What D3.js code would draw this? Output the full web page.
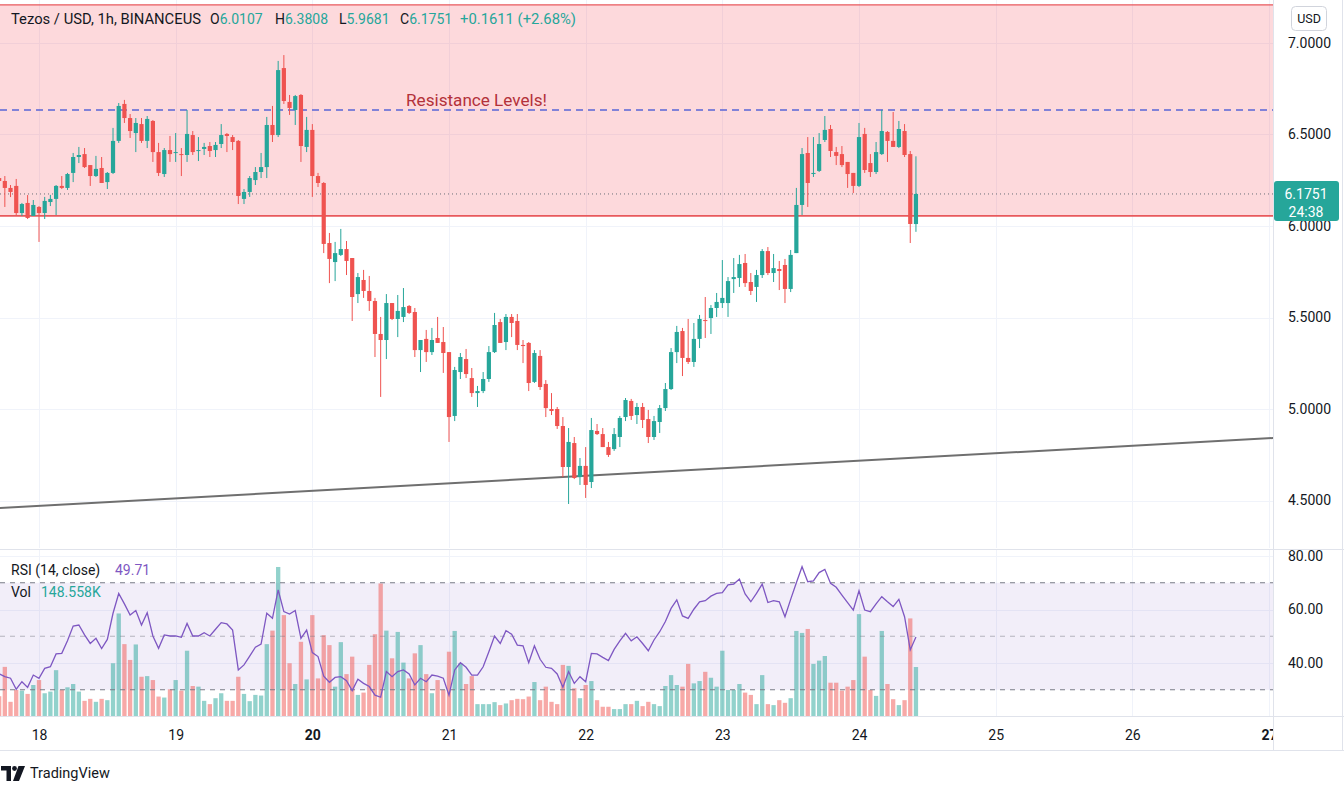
<!DOCTYPE html>
<html><head><meta charset="utf-8">
<script src="https://cdn.jsdelivr.net/npm/d3@7"></script>
<style>
body{margin:0;background:#fff;}
svg{display:block;font-family:Roboto,"Open Sans",sans-serif;}
</style>
</head><body>
<svg id="c" width="1344" height="795"></svg>
<script>
// ---------- DATA (hourly candles, Tezos / USD, BINANCEUS) ----------
const startTime = "2021-11-17T17:00:00Z";
const open = [6.262,6.246,6.208,6.219,6.071,6.126,6.055,6.104,6.071,6.131,6.148,6.219,6.208,6.290,6.377,6.393,6.333,6.273,6.317,6.240,6.290,6.465,6.667,6.590,6.508,6.557,6.465,6.574,6.404,6.284,6.415,6.399,6.393,6.388,6.497,6.410,6.421,6.437,6.415,6.448,6.503,6.486,6.465,6.148,6.186,6.251,6.295,6.322,6.552,6.497,6.863,6.678,6.634,6.716,6.432,6.525,6.273,6.235,5.907,5.803,5.842,5.874,5.825,5.628,5.705,5.645,5.590,5.410,5.377,5.579,5.492,5.503,5.563,5.530,5.322,5.383,5.311,5.388,5.366,5.311,4.962,5.202,5.273,5.169,5.087,5.098,5.164,5.311,5.475,5.366,5.503,5.481,5.350,5.361,5.148,5.290,5.137,5.000,5.000,4.907,4.683,4.814,4.628,4.689,4.601,4.880,4.863,4.792,4.781,4.847,4.956,5.044,4.967,5.011,4.945,4.847,4.929,5.005,5.109,5.311,5.426,5.279,5.257,5.383,5.486,5.497,5.552,5.579,5.579,5.710,5.716,5.798,5.694,5.667,5.732,5.863,5.743,5.765,5.787,5.656,5.852,6.115,6.399,6.284,6.301,6.470,6.530,6.404,6.393,6.350,6.290,6.219,6.503,6.344,6.295,6.393,6.514,6.465,6.432,6.519,6.393,6.0107];
const high = [6.290,6.273,6.224,6.257,6.126,6.169,6.142,6.109,6.159,6.170,6.224,6.273,6.290,6.399,6.432,6.426,6.333,6.383,6.377,6.295,6.536,6.672,6.689,6.612,6.590,6.590,6.601,6.579,6.454,6.426,6.492,6.508,6.426,6.634,6.519,6.486,6.454,6.459,6.459,6.557,6.508,6.497,6.470,6.202,6.273,6.322,6.399,6.596,6.656,6.902,6.934,6.716,6.716,6.721,6.596,6.557,6.290,6.240,5.962,5.913,5.984,5.918,5.825,5.743,5.760,5.727,5.607,5.503,5.628,5.579,5.623,5.661,5.568,5.552,5.377,5.432,5.443,5.503,5.448,5.311,5.230,5.306,5.328,5.224,5.126,5.202,5.344,5.525,5.492,5.519,5.519,5.519,5.377,5.366,5.322,5.322,5.158,5.087,5.011,4.956,4.896,4.847,4.732,4.792,4.951,4.918,4.896,4.820,4.896,4.962,5.060,5.055,5.033,5.033,4.995,4.962,5.022,5.142,5.333,5.454,5.443,5.492,5.470,5.514,5.612,5.568,5.634,5.814,5.721,5.825,5.842,5.847,5.743,5.760,5.874,5.885,5.847,5.809,5.820,5.869,6.208,6.426,6.486,6.486,6.508,6.601,6.552,6.432,6.437,6.350,6.290,6.563,6.536,6.393,6.459,6.634,6.519,6.623,6.574,6.557,6.410,6.3808];
const low = [6.180,6.104,6.158,6.060,6.055,6.038,6.055,5.913,6.038,6.109,6.060,6.202,6.197,6.240,6.344,6.317,6.219,6.268,6.235,6.202,6.284,6.454,6.563,6.481,6.404,6.454,6.426,6.350,6.273,6.268,6.350,6.350,6.273,6.350,6.388,6.355,6.388,6.377,6.377,6.426,6.404,6.415,6.120,6.120,6.159,6.224,6.262,6.262,6.459,6.486,6.667,6.607,6.552,6.350,6.404,6.159,6.213,5.852,5.688,5.699,5.836,5.732,5.481,5.579,5.607,5.536,5.284,5.066,5.273,5.486,5.393,5.475,5.519,5.284,5.202,5.257,5.295,5.361,5.197,4.820,4.934,5.164,5.169,5.066,5.011,5.087,5.148,5.306,5.361,5.322,5.393,5.322,5.251,5.098,5.142,5.104,4.956,4.967,4.891,4.628,4.481,4.617,4.585,4.514,4.568,4.858,4.792,4.738,4.771,4.792,4.934,4.940,4.918,4.896,4.814,4.831,4.869,4.989,5.104,5.251,5.180,5.246,5.230,5.333,5.388,5.410,5.503,5.552,5.503,5.634,5.667,5.667,5.623,5.585,5.716,5.732,5.694,5.650,5.579,5.639,5.852,6.060,6.104,6.268,6.295,6.459,6.377,6.333,6.322,6.208,6.180,6.213,6.290,6.268,6.284,6.388,6.350,6.432,6.426,6.377,5.907,5.9681];
const close = [6.246,6.208,6.186,6.071,6.120,6.044,6.115,6.071,6.137,6.148,6.219,6.208,6.284,6.377,6.388,6.322,6.273,6.312,6.235,6.290,6.465,6.656,6.590,6.519,6.563,6.465,6.585,6.404,6.290,6.415,6.393,6.404,6.388,6.503,6.404,6.415,6.432,6.410,6.443,6.497,6.492,6.459,6.164,6.186,6.262,6.295,6.322,6.552,6.497,6.852,6.683,6.645,6.710,6.437,6.525,6.273,6.235,5.902,5.820,5.852,5.874,5.809,5.612,5.721,5.645,5.590,5.410,5.377,5.579,5.492,5.536,5.557,5.525,5.322,5.377,5.311,5.377,5.361,5.306,4.956,5.213,5.284,5.191,5.087,5.098,5.164,5.311,5.459,5.361,5.503,5.470,5.350,5.344,5.142,5.306,5.120,5.005,4.989,4.907,4.683,4.820,4.623,4.689,4.585,4.885,4.863,4.792,4.749,4.863,4.951,5.049,4.962,5.011,4.940,4.847,4.934,5.005,5.109,5.311,5.421,5.279,5.257,5.383,5.492,5.481,5.552,5.585,5.607,5.699,5.721,5.792,5.688,5.645,5.732,5.863,5.743,5.770,5.754,5.656,5.842,6.115,6.393,6.235,6.290,6.448,6.525,6.410,6.383,6.333,6.284,6.219,6.486,6.306,6.295,6.404,6.519,6.465,6.432,6.530,6.388,6.011,6.1751];
const volumeK = [60,149,43,79,77,67,94,109,69,74,139,79,87,97,74,46,52,43,52,48,160,311,218,170,217,119,121,109,59,56,81,109,77,198,91,89,46,36,54,69,46,46,119,67,45,64,62,218,259,452,306,160,97,225,111,306,114,245,215,89,224,127,180,64,71,155,248,402,259,175,255,162,114,190,215,127,69,109,79,195,258,160,97,121,36,36,36,42,33,38,48,52,51,59,103,48,89,43,36,155,152,84,54,94,106,48,28,28,21,21,36,36,46,30,43,36,30,91,124,94,89,158,99,106,134,116,89,198,79,79,97,71,64,36,124,36,33,48,40,54,258,252,264,158,168,182,101,101,77,89,109,309,180,79,61,258,97,51,33,48,296,148.558];
const rsi = [36,34.9,34.3,30.2,33.0,30.9,35.5,34.3,38.0,38.6,43.4,43.6,48.3,53.8,54.2,50.5,47.3,49.2,45.4,48.8,58.6,66.0,62.1,57.9,59.6,54.2,58.8,50.1,45.5,50.5,50.1,50.1,49.6,54.8,50.1,50.1,51.3,50.1,52.6,55.1,54.6,52.3,37.4,39.3,42.6,45.9,47.1,58.6,56.7,67.3,59.2,58.3,59.6,49.2,52.3,43.9,42.4,35.1,32.8,34.6,34.9,33.4,29.7,33.9,32.4,31.2,28.0,27.2,36.8,34.9,36.8,37.4,35.9,31.8,34.3,33.0,35.5,35.1,34.3,28.0,37.4,40.1,38.4,35.5,35.5,38.6,44.2,50.1,47.3,52.1,50.8,46.7,46.4,40.1,46.4,41.4,38.4,38.0,35.9,30.9,36.8,32.4,34.9,33.0,43.6,43.4,42.1,40.9,45.1,48.3,51.1,48.3,49.8,47.3,44.6,48.6,51.7,55.5,60.4,63.6,57.6,56.7,60.1,62.9,63.3,65.0,66.0,66.3,69.2,69.5,71.4,65.8,62.9,66.0,69.5,62.6,63.3,62.9,57.3,63.8,70.0,76.0,70.4,70.7,73.8,75.0,69.8,68.3,65.4,62.6,59.8,67.0,59.8,59.2,62.1,64.8,62.9,61.1,63.8,57.3,44.9,49.71];

const dayTicks = ["2021-11-18","2021-11-19","2021-11-20","2021-11-21","2021-11-22","2021-11-23","2021-11-24","2021-11-25","2021-11-26","2021-11-27"];
const dayLabels = ["18","19","20","21","22","23","24","25","26","27"];
const priceTicks = [4.5,5.0,5.5,6.0,6.5,7.0];
const rsiTicks = [40,60,80];
const rsiLevels = [70,50,30];
const resistanceZone = [6.055, 7.208];
const resistanceLevel = 6.634;
const trendTimes = ["2021-11-17T17:00:00Z","2021-11-27T01:00:00Z"];
const trendPrices = [4.459, 4.842];
const lastPrice = 6.1751;
const countdown = "24:38";
const changeText = "+0.1611 (+2.68%)";

// ---------- LAYOUT ----------
const W = 1344, plotR = 1273;
const mainTop = 0, mainBot = 548, rsiTop = 550, rsiBot = 716, axisBot = 750;
const TEAL = "#26a69a", RED = "#ef5350";

const t0 = new Date(startTime);
const times = open.map((_, i) => d3.utcHour.offset(t0, i));
const candles = times.map((t, i) => ({t, o: open[i], h: high[i], l: low[i], c: close[i], v: volumeK[i], r: rsi[i]}));

const x = d3.scaleUtc().domain([new Date(dayTicks[0] + "T00:00:00Z"), new Date(dayTicks[9] + "T00:00:00Z")]).range([39, 1269]);
const y = d3.scaleLinear().domain([4.5, 7.0]).range([500.5, 43]);
const yR = d3.scaleLinear().domain([40, 80]).range([663, 556]);
const yV = d3.scaleLinear().domain([0, 455]).range([716, 566]);
const dayDates = dayTicks.map(d => new Date(d + "T00:00:00Z"));

const svg = d3.select("#c");
const defs = svg.append("defs");
defs.append("clipPath").attr("id", "clipMain").append("rect").attr("x", 0).attr("y", mainTop).attr("width", plotR).attr("height", mainBot - mainTop);
defs.append("clipPath").attr("id", "clipRsi").append("rect").attr("x", 0).attr("y", rsiTop).attr("width", plotR).attr("height", rsiBot - rsiTop);
defs.append("clipPath").attr("id", "clipAxis").append("rect").attr("x", 0).attr("y", rsiBot).attr("width", plotR).attr("height", axisBot - rsiBot);

svg.append("rect").attr("width", W).attr("height", 795).attr("fill", "#fff");

// ---------- MAIN PANE ----------
const main = svg.append("g").attr("clip-path", "url(#clipMain)");
main.selectAll("line.vg").data(dayDates).join("line")
  .attr("x1", d => Math.round(x(d)) + 0.5).attr("x2", d => Math.round(x(d)) + 0.5)
  .attr("y1", mainTop).attr("y2", mainBot).attr("stroke", "#f0f3fa");
main.selectAll("line.hg").data(priceTicks).join("line")
  .attr("x1", 0).attr("x2", plotR).attr("y1", d => Math.round(y(d)) + 0.5).attr("y2", d => Math.round(y(d)) + 0.5)
  .attr("stroke", "#f0f3fa");

main.append("rect").attr("x", 0).attr("width", plotR)
  .attr("y", y(resistanceZone[1])).attr("height", y(resistanceZone[0]) - y(resistanceZone[1]))
  .attr("fill", "rgba(242,54,69,0.19)");
main.append("line").attr("x1", 0).attr("x2", plotR).attr("y1", y(resistanceZone[1])).attr("y2", y(resistanceZone[1]))
  .attr("stroke", "#e8595c").attr("stroke-width", 1.3);
main.append("line").attr("x1", 0).attr("x2", plotR).attr("y1", y(resistanceZone[0])).attr("y2", y(resistanceZone[0]))
  .attr("stroke", "#e8595c").attr("stroke-width", 1.8);

main.append("line").attr("x1", 0).attr("x2", plotR).attr("y1", y(resistanceLevel)).attr("y2", y(resistanceLevel))
  .attr("stroke", "#5866d6").attr("stroke-width", 1.3).attr("stroke-dasharray", "7,5");

main.append("line").attr("x1", 0).attr("x2", plotR).attr("y1", y(lastPrice)).attr("y2", y(lastPrice))
  .attr("stroke", "#6b6e78").attr("stroke-width", 1).attr("stroke-dasharray", "1,3");

main.append("line")
  .attr("x1", x(new Date(trendTimes[0]))).attr("y1", y(trendPrices[0]))
  .attr("x2", x(new Date(trendTimes[1]))).attr("y2", y(trendPrices[1]))
  .attr("stroke", "#6f6f6f").attr("stroke-width", 2);

const bw = 4.2;
const cg = main.append("g");
cg.selectAll("line.wick").data(candles).join("line")
  .attr("x1", d => x(d.t)).attr("x2", d => x(d.t))
  .attr("y1", d => y(d.h)).attr("y2", d => y(d.l))
  .attr("stroke", d => d.c >= d.o ? TEAL : RED).attr("stroke-width", 1);
cg.selectAll("rect.body").data(candles).join("rect")
  .attr("x", d => x(d.t) - bw / 2).attr("width", bw)
  .attr("y", d => y(Math.max(d.o, d.c)))
  .attr("height", d => Math.max(1, Math.abs(y(d.o) - y(d.c))))
  .attr("fill", d => d.c >= d.o ? TEAL : RED);

main.append("text").attr("x", 406).attr("y", 100).attr("dy", "0.35em")
  .attr("fill", "#b3313a").attr("font-size", 16).attr("textLength", 141).attr("lengthAdjust", "spacingAndGlyphs")
  .text("Resistance Levels!");

// header legend
const hdr = svg.append("g").attr("font-size", 14).attr("fill", "#131722");
hdr.append("text").attr("x", 11).attr("y", 24).attr("textLength", 190).attr("lengthAdjust", "spacingAndGlyphs")
  .text("Tezos / USD, 1h, BINANCEUS");
const ohlc = [["O", open[open.length-1].toFixed(4), 210], ["H", high[high.length-1].toFixed(4), 275], ["L", low[low.length-1].toFixed(4), 339], ["C", close[close.length-1].toFixed(4), 400]];
ohlc.forEach(([k, v, px]) => {
  const t = hdr.append("text").attr("x", px).attr("y", 24);
  t.append("tspan").text(k);
  t.append("tspan").attr("fill", TEAL).text(v);
});
hdr.append("text").attr("x", 460).attr("y", 24).attr("fill", TEAL)
  .attr("textLength", 116).attr("lengthAdjust", "spacingAndGlyphs").text(changeText);

// ---------- RSI / VOLUME PANE ----------
const rp = svg.append("g").attr("clip-path", "url(#clipRsi)");
rp.selectAll("line.vg").data(dayDates).join("line")
  .attr("x1", d => Math.round(x(d)) + 0.5).attr("x2", d => Math.round(x(d)) + 0.5)
  .attr("y1", rsiTop).attr("y2", rsiBot).attr("stroke", "#f0f3fa");
rp.selectAll("line.hg").data(rsiTicks).join("line")
  .attr("x1", 0).attr("x2", plotR).attr("y1", d => Math.round(yR(d)) + 0.5).attr("y2", d => Math.round(yR(d)) + 0.5)
  .attr("stroke", "#f0f3fa");
rp.append("rect").attr("x", 0).attr("width", plotR)
  .attr("y", yR(70)).attr("height", yR(30) - yR(70)).attr("fill", "rgba(126,87,194,0.1)");
rp.selectAll("rect.vol").data(candles).join("rect")
  .attr("x", d => x(d.t) - 2.15).attr("width", 4.3)
  .attr("y", d => yV(d.v)).attr("height", d => yV(0) - yV(d.v))
  .attr("fill", d => d.c >= d.o ? "rgba(38,166,154,0.5)" : "rgba(239,83,80,0.5)");
rp.selectAll("line.lvl").data(rsiLevels).join("line")
  .attr("x1", 0).attr("x2", plotR).attr("y1", d => yR(d)).attr("y2", d => yR(d))
  .attr("stroke", "#787b86").attr("stroke-opacity", d => d === 50 ? 0.5 : 1)
  .attr("stroke-dasharray", "5,5");
rp.append("path").datum(candles)
  .attr("d", d3.line().x(d => x(d.t)).y(d => yR(d.r)))
  .attr("fill", "none").attr("stroke", "#7e57c2").attr("stroke-width", 1.3);

const lg = svg.append("g").attr("font-size", 14).attr("fill", "#131722");
const l1 = lg.append("text").attr("x", 11).attr("y", 575);
l1.append("tspan").text("RSI (14, close)");
l1.append("tspan").attr("x", 115).attr("fill", "#7e57c2").text(rsi[rsi.length-1].toFixed(2));
const l2 = lg.append("text").attr("x", 11).attr("y", 597);
l2.append("tspan").text("Vol");
l2.append("tspan").attr("x", 41).attr("fill", TEAL).text(volumeK[volumeK.length-1].toFixed(3) + "K");

// ---------- AXES ----------
const ax = svg.append("g").attr("clip-path", "url(#clipAxis)");
const xAxis = d3.axisBottom(x).tickValues(dayDates).tickSize(0).tickFormat((d, i) => dayLabels[i]);
const xg = ax.append("g").attr("transform", `translate(0,${rsiBot + 11})`).call(xAxis);
xg.select(".domain").remove();
xg.selectAll("text").attr("font-size", 14).attr("fill", "#131722").attr("font-family", "Roboto,sans-serif")
  .attr("font-weight", (d, i) => (dayLabels[i] === "20" || dayLabels[i] === "27") ? "bold" : "normal");

const yAxis = d3.axisRight(y).tickValues(priceTicks).tickSize(0).tickFormat(d3.format(".4f"));
const yg = svg.append("g").attr("transform", `translate(${plotR + 12},0)`).call(yAxis);
yg.select(".domain").remove();
yg.selectAll("text").attr("font-size", 14).attr("fill", "#131722").attr("font-family", "Roboto,sans-serif");

const rAxis = d3.axisRight(yR).tickValues(rsiTicks).tickSize(0).tickFormat(d3.format(".2f"));
const rg = svg.append("g").attr("transform", `translate(${plotR + 12},0)`).call(rAxis);
rg.select(".domain").remove();
rg.selectAll("text").attr("font-size", 14).attr("fill", "#131722").attr("font-family", "Roboto,sans-serif");

const ly = y(lastPrice);
svg.append("rect").attr("x", plotR + 1).attr("y", ly - 13).attr("width", 65).attr("height", 40).attr("rx", 3).attr("fill", TEAL);
svg.append("text").attr("x", plotR + 33).attr("y", ly).attr("dy", "0.35em").attr("text-anchor", "middle")
  .attr("fill", "#fff").attr("font-size", 14).text(lastPrice.toFixed(4));
svg.append("text").attr("x", plotR + 33).attr("y", ly + 18).attr("dy", "0.35em").attr("text-anchor", "middle")
  .attr("fill", "#fff").attr("font-size", 14).text(countdown);

svg.append("rect").attr("x", 1291.5).attr("y", 6.5).attr("width", 35).attr("height", 24).attr("rx", 4)
  .attr("fill", "#fff").attr("stroke", "#d1d4dc");
svg.append("text").attr("x", 1309).attr("y", 19).attr("dy", "0.35em").attr("text-anchor", "middle")
  .attr("font-size", 12.5).attr("fill", "#131722").text("USD");

const sep = svg.append("g").attr("stroke", "#e0e3eb").attr("stroke-width", 1);
sep.append("line").attr("x1", plotR + 0.5).attr("x2", plotR + 0.5).attr("y1", 0).attr("y2", axisBot);
sep.append("line").attr("x1", 0).attr("x2", W).attr("y1", 549.5).attr("y2", 549.5);
sep.append("line").attr("x1", 0).attr("x2", W).attr("y1", rsiBot + 0.5).attr("y2", rsiBot + 0.5);
sep.append("line").attr("x1", 0).attr("x2", W).attr("y1", axisBot + 0.5).attr("y2", axisBot + 0.5);
sep.append("line").attr("x1", 1342.5).attr("x2", 1342.5).attr("y1", 0).attr("y2", axisBot);

const logo = svg.append("g").attr("fill", "#131722");
logo.append("path").attr("d", "M1,766 H11 V781 H6.5 V770.5 H1 Z");
logo.append("circle").attr("cx", 14.5).attr("cy", 768.5).attr("r", 2.4);
logo.append("path").attr("d", "M18.5,766 H25 L19,781 H13 Z");
svg.append("text").attr("x", 30).attr("y", 778).attr("font-size", 14.5).attr("fill", "#131722").text("TradingView");
</script>
</body></html>
